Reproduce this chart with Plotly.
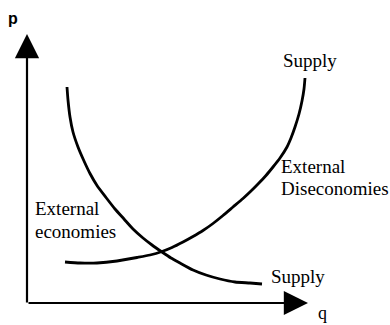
import plotly.graph_objects as go

# Curve with external economies (falling supply)
econ_q = [40, 41, 43, 46, 51, 57, 63, 70, 79, 88, 97, 106, 116, 125, 135, 144, 153, 166, 179, 193, 208, 223, 235]
econ_p = [217, 204, 187, 172, 157, 143, 130.5, 118.5, 106.5, 95, 85, 75, 66, 59, 52, 46, 41, 34, 29, 25, 22, 21, 20]

# Curve with external diseconomies (rising supply)
dis_q = [38, 53, 70, 90, 110, 123, 135, 145, 156, 166, 176, 186, 196, 206, 216, 224, 231, 239, 246, 253,
         260, 264, 268, 272, 275, 277, 278]
dis_p = [42, 41, 41, 43, 46.5, 49, 52.5, 56.5, 62, 67.5, 73.5, 80.5, 88.5, 97, 105.5, 113, 120, 128.5, 137, 146,
         157, 166, 177, 190, 203, 215, 226]

FONT = "Liberation Serif"

fig = go.Figure()
for qs, ps in [(econ_q, econ_p), (dis_q, dis_p)]:
    fig.add_trace(go.Scatter(x=qs, y=ps, mode="lines",
                             line=dict(color="black", width=2.8, shape="spline", smoothing=0.6),
                             hoverinfo="skip", showlegend=False))

# axes with arrows
fig.add_annotation(x=0, y=270, ax=0, ay=0, xref="x", yref="y", axref="x", ayref="y",
                   showarrow=True, arrowhead=2, arrowsize=2.2, arrowwidth=2.2, arrowcolor="black", text="")
fig.add_annotation(x=281, y=1, ax=0, ay=1, xref="x", yref="y", axref="x", ayref="y",
                   showarrow=True, arrowhead=2, arrowsize=2.2, arrowwidth=2.2, arrowcolor="black", text="")

def label(text, x, y, xanchor="left", size=19, family=FONT):
    fig.add_annotation(x=x, y=y, xref="x", yref="y", text=text, showarrow=False,
                       xanchor=xanchor, yanchor="middle", align="left",
                       font=dict(family=family, size=size, color="black"))

label("<b>p</b>", -14, 286, xanchor="center", size=16, family="Liberation Sans")
label("q", 295, -9, xanchor="center", size=18)
label("Supply", 254, 244)
label("Supply", 242, 28)
label("External", 252, 138)
label("Diseconomies", 252, 116)
label("External", 6, 96)
label("economies", 6, 73)

fig.update_xaxes(range=[-27, 363], visible=False, fixedrange=True)
fig.update_yaxes(range=[-21, 304], visible=False, fixedrange=True)
fig.update_layout(width=390, height=325, margin=dict(l=0, r=0, t=0, b=0),
                  paper_bgcolor="white", plot_bgcolor="white")
fig.write_html("out.html", config={"displayModeBar": False},
               post_script="document.body.style.margin='0';")
